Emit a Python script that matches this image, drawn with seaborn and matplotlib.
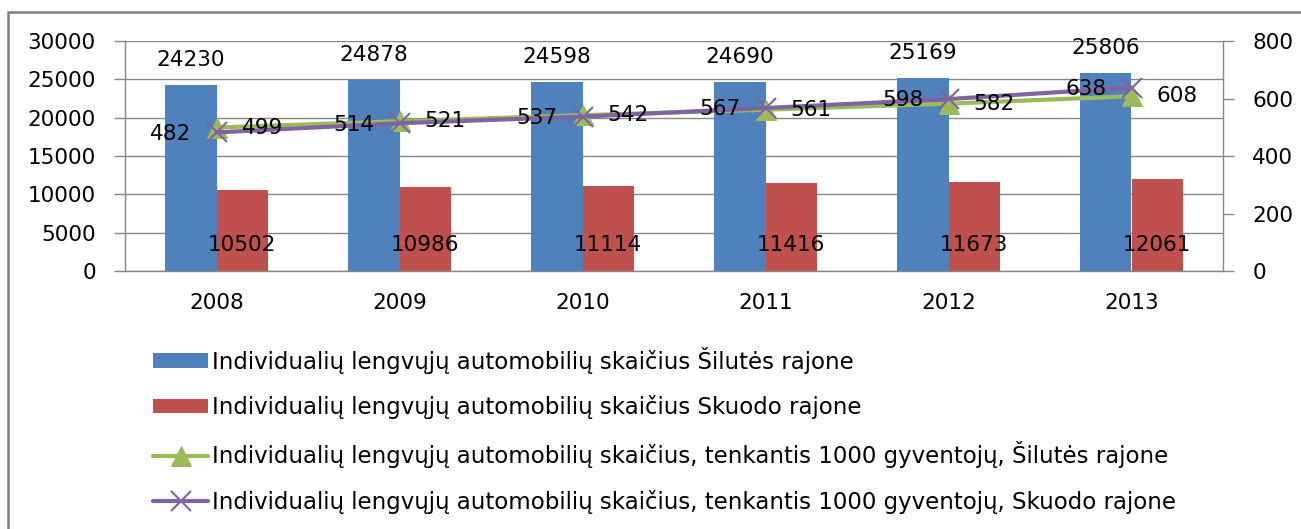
import numpy as np
import pandas as pd
import matplotlib
matplotlib.use("Agg")
import matplotlib.pyplot as plt
import seaborn as sns
from matplotlib.patches import Rectangle

# ---------------- data ----------------
years = ["2008", "2009", "2010", "2011", "2012", "2013"]
silute_cars = [24230, 24878, 24598, 24690, 25169, 25806]
skuodas_cars = [10502, 10986, 11114, 11416, 11673, 12061]
silute_per1000 = [499, 521, 542, 561, 582, 608]
skuodas_per1000 = [482, 514, 537, 567, 598, 638]

lab_bar1 = "Individualių lengvųjų automobilių skaičius Šilutės rajone"
lab_bar2 = "Individualių lengvųjų automobilių skaičius Skuodo rajone"
lab_line1 = "Individualių lengvųjų automobilių skaičius, tenkantis 1000 gyventojų, Šilutės rajone"
lab_line2 = "Individualių lengvųjų automobilių skaičius, tenkantis 1000 gyventojų, Skuodo rajone"

BLUE = "#4F81BD"
RED = "#C0504D"
GREEN = "#9BBB59"
PURPLE = "#8064A2"
GRID = "#878787"

sns.set_style("white")
plt.rcParams["font.family"] = ["DejaVu Sans"]
plt.rcParams["text.color"] = "black"
plt.rcParams["legend.labelcolor"] = "black"

W, H = 1301, 529
fig = plt.figure(figsize=(W / 100, H / 100), dpi=100)
L, R, T, B = 125, 1223, 41, 271
ax = fig.add_axes([L / W, 1 - B / H, (R - L) / W, (B - T) / H])

df = pd.DataFrame({
    "year": years * 2,
    "value": silute_cars + skuodas_cars,
    "series": [lab_bar1] * len(years) + [lab_bar2] * len(years),
})
sns.barplot(data=df, x="year", y="value", hue="series", palette=[BLUE, RED],
            width=0.562, gap=0, saturation=1, errorbar=None, linewidth=0,
            ax=ax)
bar_handles, bar_labels = ax.get_legend_handles_labels()
if ax.legend_ is not None:
    ax.legend_.remove()

ax2 = ax.twinx()
pos = np.arange(len(years))
sns.lineplot(x=pos, y=silute_per1000, ax=ax2, color=GREEN, linewidth=3,
             marker="^", markersize=14, markeredgecolor=GREEN,
             markerfacecolor=GREEN, label=lab_line1)
sns.lineplot(x=pos, y=skuodas_per1000, ax=ax2, color=PURPLE, linewidth=3,
             marker="x", markersize=14, markeredgecolor=PURPLE,
             markeredgewidth=1.5, label=lab_line2)
line_handles, line_labels = ax2.get_legend_handles_labels()
if ax2.legend_ is not None:
    ax2.legend_.remove()

# axes setup
ax.set_xlim(-0.5, len(years) - 0.5)
ax.set_ylim(0, 30000)
ax.set_yticks(np.arange(0, 30001, 5000))
ax2.set_ylim(0, 800)
ax2.set_yticks(np.arange(0, 801, 200))
for a in (ax, ax2):
    a.set_xlabel("")
    a.set_ylabel("")

ax.set_xticks(pos)
ax.set_xticklabels(years)
ax.set_xticks(np.arange(-0.5, len(years), 1), minor=True)
ax.tick_params(axis="x", which="major", length=0, pad=16, labelsize=15.5,
               labelcolor="black")
ax.tick_params(axis="x", which="minor", length=8, width=1, color=GRID,
               direction="out")
ax.tick_params(axis="y", length=8, width=1, color=GRID, direction="out",
               pad=13, labelsize=15.5, labelcolor="black", left=True)
ax2.tick_params(axis="y", length=8, width=1, color=GRID, direction="out",
                pad=13, labelsize=15.5, labelcolor="black", right=True)

ax.yaxis.grid(True, color=GRID, linewidth=1)
ax.xaxis.grid(False)
ax.set_axisbelow(True)
for a in (ax, ax2):
    a.spines["top"].set_visible(False)
    for s in ("left", "right", "bottom"):
        a.spines[s].set_color(GRID)
        a.spines[s].set_linewidth(1)
ax.spines["right"].set_visible(False)
ax2.spines["left"].set_visible(False)
ax2.spines["bottom"].set_visible(False)

# data labels
FS = 15.5
for bar in ax.containers[0]:
    x = bar.get_x() + bar.get_width() / 2
    h = bar.get_height()
    ax.annotate(f"{int(round(h))}", (x, h), xytext=(0, 18),
                textcoords="offset points", ha="center", va="center",
                fontsize=FS, color="black")
for bar in ax.containers[1]:
    x = bar.get_x() + bar.get_width() / 2
    h = bar.get_height()
    ax.annotate(f"{int(round(h))}", (x, 0), xytext=(0, 18.5),
                textcoords="offset points", ha="center", va="center",
                fontsize=FS, color="black")
for i, v in enumerate(skuodas_per1000):
    ax2.annotate(f"{v}", (pos[i], v), xytext=(-18, -1),
                 textcoords="offset points", ha="right", va="center",
                 fontsize=FS, color="black")
for i, v in enumerate(silute_per1000):
    ax2.annotate(f"{v}", (pos[i], v), xytext=(18, 0),
                 textcoords="offset points", ha="left", va="center",
                 fontsize=FS, color="black")

# legend: one row per entry, at the reference row positions
handles = bar_handles + line_handles
labels = bar_labels + line_labels
row_y = [360, 407, 455, 502]


def make_legend(h, lab, y, fpt):
    fpx = fpt * 100 / 72
    lg = fig.legend([h], [lab], loc="center left",
                    bbox_to_anchor=(153 / W, 1 - y / H),
                    frameon=False, fontsize=fpt, borderpad=0,
                    borderaxespad=0, handlelength=55 / fpx,
                    handleheight=14 / fpx, handletextpad=4 / fpx,
                    labelcolor="black")
    return lg


tmp = make_legend(handles[0], labels[0], row_y[0], 17)
fig.canvas.draw()
wpx = tmp.get_texts()[0].get_window_extent().width
tmp.remove()
fnew = 17 * 643 / wpx
for h, lab, y in zip(handles, labels, row_y):
    make_legend(h, lab, y, fnew)

# outer chart frame
fig.add_artist(Rectangle((8 / W, -0.05), 1.2, (1 - 12 / H) + 0.05,
                         transform=fig.transFigure, fill=False,
                         edgecolor="#7F7F7F", linewidth=1.8, clip_on=False))

fig.savefig("out.png", dpi=100)
